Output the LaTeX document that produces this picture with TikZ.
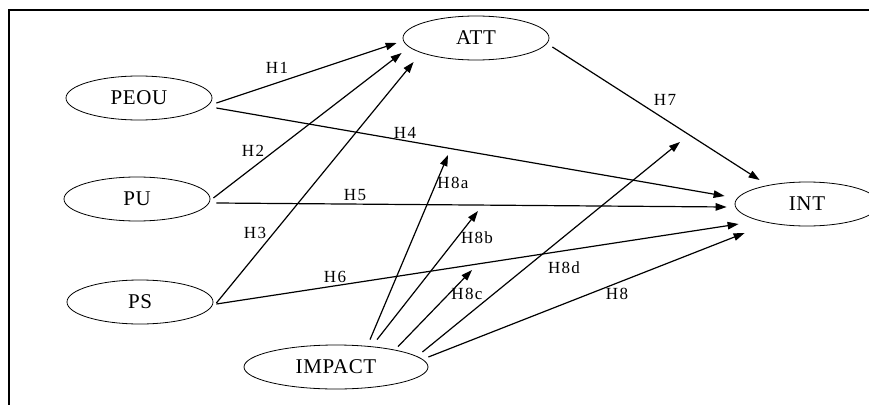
\documentclass[tikz,border=0pt]{standalone}
\usepackage{fontspec}
\setmainfont{Liberation Serif}
\newfontfamily\constructfont[LetterSpace=3]{Liberation Serif}
\newfontfamily\hlabfont[LetterSpace=8]{Liberation Serif}
\usetikzlibrary{shapes.geometric,arrows.meta}
\tikzset{
    construct/.style={draw, ellipse, line width=0.8pt, minimum width=146pt, minimum height=44pt, inner sep=0pt, font=\constructfont\fontsize{21}{22}\selectfont},
    hyp/.style={-{Triangle[length=11pt,width=7.5pt]}, line width=1.2pt},
    hlab/.style={inner sep=0pt, font=\hlabfont\fontsize{17}{18}\selectfont}
}
\begin{document}
\begin{tikzpicture}[x=1pt,y=-1pt]
        \clip (0,0) rectangle (869,404);
        \fill[white] (0,0) rectangle (869,404);
        \draw[line width=1.8pt] (9,410) -- (9,10) -- (875,10);
        \node[construct] (peou) at (139,98) {PEOU};
        \node[construct] (pu) at (137,199) {PU};
        \node[construct] (ps) at (140,302) {PS};
        \node[construct] (att) at (476,38) {ATT};
        \node[construct, minimum width=184pt] (impact) at (336,367) {IMPACT};
        \node[construct, minimum width=144pt] (int) at (807,204) {INT};
        \coordinate (m8a) at (448,155);
        \coordinate (m8b) at (478,211);
        \coordinate (m8c) at (472,270);
        \coordinate (m8d) at (680,142);
        \foreach \from / \off / \to / \toff in {peou.east/{4,5}/att.west/{-6,5}, pu.east/{3,-1}/att.west/{-1,15}, ps.east/{3,1}/att.west/{11,24}, peou.east/{4,10}/int.west/{-10,-8}, pu.east/{6,4}/int.west/{-8,3}, ps.east/{3,2}/int.west/{4,20}, att.east/{3,9}/int.west/{25,-24}, impact.east/{0,-10}/int.west/{10,29}}
        {
            \draw[hyp] ([shift={(\off)}]\from) -- ([shift={(\toff)}]\to);
        }
        \foreach \from / \off / \to in {impact.north/{34,-5}/m8a, impact.north/{41,-5}/m8b, impact.north/{62,2}/m8c, impact.east/{-6,-15}/m8d}
        {
            \draw[hyp] ([shift={(\off)}]\from) -- (\to);
        }
        \foreach \lab / \pos in {H1/{277,68}, H2/{253,151}, H3/{255,233}, H4/{405,133}, H5/{355,195}, H6/{335,277}, H7/{665,100}, H8a/{453,183}, H8b/{477,238}, H8c/{467,294}, H8d/{564,268}, H8/{617,294}}
        {
            \node[hlab] (\lab) at (\pos) {\lab};
        }
    \end{tikzpicture}
\end{document}
